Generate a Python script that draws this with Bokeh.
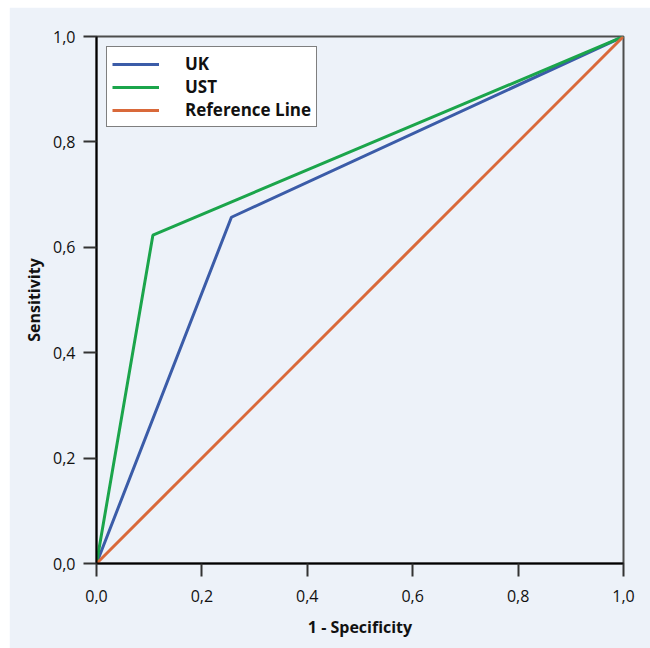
from bokeh.plotting import figure
from bokeh.models import Range1d, FixedTicker, Legend, LegendItem
from bokeh.embed import file_html
from bokeh.resources import INLINE

# data
uk_x = [0.0, 0.256, 1.0]
uk_y = [0.0, 0.657, 1.0]
ust_x = [0.0, 0.107, 1.0]
ust_y = [0.0, 0.623, 1.0]
ref_x = [0.0, 1.0]
ref_y = [0.0, 1.0]
ticks = [0.0, 0.2, 0.4, 0.6, 0.8, 1.0]
tick_labels = {0.0: "0,0", 0.2: "0,2", 0.4: "0,4", 0.6: "0,6", 0.8: "0,8", 1.0: "1,0"}

BG = "#edf2f9"
FONT = "Open Sans"

p = figure(width=641, height=641, output_backend="svg", toolbar_location=None,
           x_range=Range1d(0, 1), y_range=Range1d(0, 1),
           min_border_left=87, min_border_right=27, min_border_top=29, min_border_bottom=85)
p.margin = (7, 0, 0, 9)
p.background_fill_color = BG
p.border_fill_color = BG
p.outline_line_color = "#4d4d4d"
p.outline_line_width = 2
p.grid.visible = False

r_uk = p.line(uk_x, uk_y, line_color="#3b5ca8", line_width=3)
r_ust = p.line(ust_x, ust_y, line_color="#1ba54b", line_width=3)
r_ref = p.line(ref_x, ref_y, line_color="#d9693a", line_width=3)

for ax in (p.xaxis[0], p.yaxis[0]):
    ax.ticker = FixedTicker(ticks=ticks)
    ax.major_label_overrides = tick_labels
    ax.minor_tick_line_color = None
    ax.axis_line_color = "black"
    ax.axis_line_width = 2
    ax.major_tick_line_color = "#333333"
    ax.major_tick_line_width = 2
    ax.major_tick_out = 13
    ax.major_tick_in = 0
    ax.major_label_text_font = FONT
    ax.major_label_text_font_size = "16px"
    ax.major_label_text_color = "#111111"
    ax.axis_label_text_font = FONT
    ax.axis_label_text_font_size = "16px"
    ax.axis_label_text_font_style = "bold"
    ax.axis_label_text_color = "#111111"

p.xaxis.axis_label = "1 - Specificity"
p.yaxis.axis_label = "Sensitivity"
p.xaxis.major_label_standoff = 13
p.yaxis.major_label_standoff = 8
p.xaxis.axis_label_standoff = 11
p.yaxis.axis_label_standoff = 5

legend = Legend(items=[LegendItem(label="UK", renderers=[r_uk]),
                       LegendItem(label="UST", renderers=[r_ust]),
                       LegendItem(label="Reference Line", renderers=[r_ref])],
                location="top_left")
legend.margin = 10
legend.padding = 5
legend.spacing = 0
legend.glyph_width = 47
legend.glyph_height = 20
legend.label_height = 20
legend.label_standoff = 26
legend.label_text_font = FONT
legend.label_text_font_size = "17px"
legend.label_text_font_style = "bold"
legend.label_text_color = "#111111"
legend.border_line_color = "black"
legend.border_line_width = 1.5
legend.background_fill_color = "white"
legend.background_fill_alpha = 1
p.add_layout(legend)

open("out.html", "w").write(file_html(p, INLINE))
